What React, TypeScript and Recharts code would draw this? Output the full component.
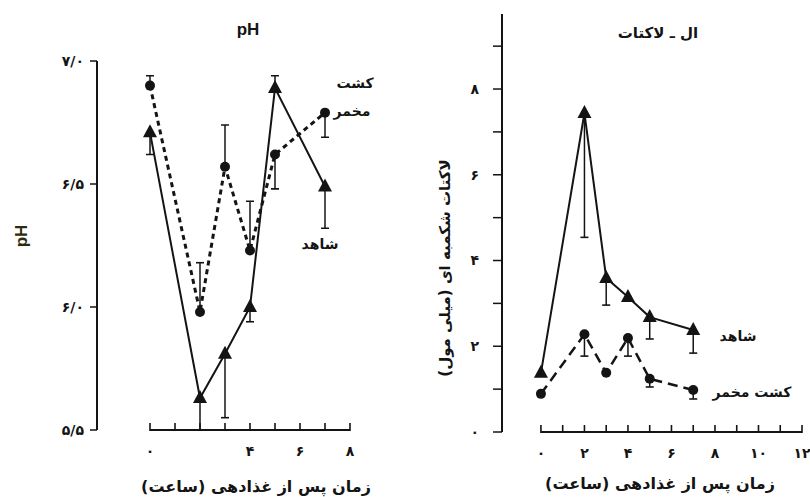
import React from 'react';
import { LineChart, Line, XAxis, YAxis } from 'recharts';

// sampling times (hours after feeding)
const hours = [0, 2, 3, 4, 5, 7];

// pH panel
const phControl = [6.71, 5.63, 5.81, 6.0, 6.89, 6.49];
const phControlErr = [[0.09, 0], [0.22, 0], [0.26, 0], [0.06, 0], [0, 0.05], [0.17, 0]]; // [down, up]
const phYeast = [6.9, 5.98, 6.57, 6.23, 6.62, 6.79];
const phYeastErr = [[0, 0.04], [0, 0.2], [0, 0.17], [0, 0.2], [0.14, 0], [0.1, 0]];

// L-lactate panel (mmol)
const lacControl = [1.38, 7.44, 3.59, 3.15, 2.68, 2.38];
const lacControlErr = [[0, 0], [2.9, 0], [0.63, 0], [0, 0], [0.51, 0], [0.54, 0]];
const lacYeast = [0.89, 2.28, 1.38, 2.19, 1.24, 0.98];
const lacYeastErr = [[0, 0], [0.51, 0], [0, 0], [0.42, 0], [0.19, 0], [0.21, 0]];

// ticks and their labels
const phTicks = [5.5, 6.0, 6.5, 7.0];
const phTickLabels = ['۵/۵', '۶/۰', '۶/۵', '۷/۰'];
const phHourTicks = [0, 1, 2, 3, 4, 5, 6, 7, 8];
const phHourLabels = ['۰', '', '', '', '۴', '', '۶', '', '۸'];
const lacTicks = [0, 1, 2, 3, 4, 5, 6, 7, 8, 9];
const lacTickLabels = ['۰', '', '۲', '', '۴', '', '۶', '', '۸', ''];
const lacHourTicks = [0, 1, 2, 3, 4, 5, 6, 7, 8, 9, 10, 11, 12];
const lacHourLabels = ['۰', '', '۲', '', '۴', '', '۶', '', '۸', '', '۱۰', '', '۱۲'];

const phRows = hours.map((h, i) => ({ hour: h, control: phControl[i], yeast: phYeast[i] }));
const lacRows = hours.map((h, i) => ({ hour: h, control: lacControl[i], yeast: lacYeast[i] }));

// one-sided error bars as two-point segments (value -> value -/+ error)
const errorSegments = (vals: number[], errs: number[][]) =>
  hours.flatMap((h, i) => {
    const out: { hour: number; v: number }[][] = [];
    const [lo, hi] = errs[i];
    if (lo > 0) out.push([{ hour: h, v: vals[i] }, { hour: h, v: vals[i] - lo }]);
    if (hi > 0) out.push([{ hour: h, v: vals[i] }, { hour: h, v: vals[i] + hi }]);
    return out;
  });

const phErrSegs = [...errorSegments(phYeast, phYeastErr), ...errorSegments(phControl, phControlErr)];
const lacErrSegs = [...errorSegments(lacYeast, lacYeastErr), ...errorSegments(lacControl, lacControlErr)];

// x axis baselines
const phBase = [{ hour: 0, v: 5.5 }, { hour: 8, v: 5.5 }];
const lacBase = [{ hour: 0, v: 0 }, { hour: 12, v: 0 }];

const INK = '#141414';
const FA = '"DejaVu Sans", sans-serif';

const tickStyle = { fill: INK, fontSize: 14, fontFamily: FA, fontWeight: 'bold' as const };

// x ticks point up into the plot, label sits below the axis
const makeUpTick = (ticks: number[], labels: string[]) => (props: any) => {
  const { x, y, payload, index } = props;
  const text = labels[ticks.indexOf(payload.value)] ?? '';
  const ax = Number(x);
  const ay = Number(y);
  return (
    <g key={`xt-${index}`}>
      <rect x={ax - 0.8} y={ay - 7} width={1.6} height={8} fill={INK} />
      <text x={ax} y={ay + 26} textAnchor="middle" {...tickStyle}>
        {text}
      </text>
    </g>
  );
};
const phHourTick = makeUpTick(phHourTicks, phHourLabels);
const lacHourTick = makeUpTick(lacHourTicks, lacHourLabels);

const TriangleDot = (props: any) => {
  const { cx, cy, index } = props;
  if (cx == null || cy == null) return <g key={`tri-${index}`} />;
  return <path key={`tri-${index}`} d={`M${cx},${cy - 8}L${cx + 7},${cy + 5}L${cx - 7},${cy + 5}Z`} fill={INK} />;
};

const CircleDot = (props: any) => {
  const { cx, cy, index } = props;
  if (cx == null || cy == null) return <g key={`cir-${index}`} />;
  return <circle key={`cir-${index}`} cx={cx} cy={cy} r={5} fill={INK} />;
};

// cap at the far end of an error segment
const CapDot = (props: any) => {
  const { cx, cy, index } = props;
  if (index !== 1 || cx == null || cy == null) return <g key={`cap-${index}`} />;
  return <line key={`cap-${index}`} x1={cx - 4} x2={cx + 4} y1={cy} y2={cy} stroke={INK} strokeWidth={1.6} />;
};

const label = (text: string, left: number, top: number, extra: React.CSSProperties = {}) => (
  <div
    dir="rtl"
    style={{
      position: 'absolute',
      left,
      top,
      transform: 'translate(-50%, -50%)',
      whiteSpace: 'nowrap',
      fontFamily: FA,
      fontWeight: 'bold',
      fontSize: 14,
      color: INK,
      ...extra,
    }}
  >
    {text}
  </div>
);

const App: React.FC = () => {
  return (
    <div style={{ position: 'absolute', left: 0, top: 0, width: 810, height: 497, background: '#fff' }}>
      {/* pH panel */}
      <div style={{ position: 'absolute', left: 0, top: 0 }}>
        <LineChart width={420} height={497} data={phRows} margin={{ top: 61, right: 70, bottom: 27, left: 37 }}>
          <XAxis
            type="number"
            dataKey="hour"
            domain={[-2.12, 8]}
            ticks={phHourTicks}
            interval={0}
            axisLine={false}
            tickLine={false}
            tickSize={0}
            tickMargin={0}
            height={40}
            tick={phHourTick}
          />
          <YAxis
            type="number"
            domain={[5.5, 7.0]}
            ticks={phTicks}
            interval={0}
            width={60}
            tickSize={7}
            tickMargin={6}
            axisLine={{ stroke: INK, strokeWidth: 2 }}
            tickLine={{ stroke: INK, strokeWidth: 1.5 }}
            tick={tickStyle}
            tickFormatter={(v) => phTickLabels[phTicks.indexOf(v)] ?? ''}
          />
          <YAxis yAxisId="err" type="number" domain={[5.5, 7.0]} allowDataOverflow hide />
          <Line data={phBase} dataKey="v" stroke={INK} strokeWidth={2} dot={false} activeDot={false} isAnimationActive={false} />
          {phErrSegs.map((seg, i) => (
            <Line
              key={`phe-${i}`}
              yAxisId="err"
              data={seg}
              dataKey="v"
              stroke={INK}
              strokeWidth={1.5}
              dot={CapDot}
              activeDot={false}
              isAnimationActive={false}
            />
          ))}
          <Line
            dataKey="yeast"
            stroke={INK}
            strokeWidth={3}
            strokeDasharray="5 4"
            dot={CircleDot}
            activeDot={false}
            isAnimationActive={false}
          />
          <Line
            dataKey="control"
            stroke={INK}
            strokeWidth={2}
            dot={TriangleDot}
            activeDot={false}
            isAnimationActive={false}
          />
        </LineChart>
      </div>

      {/* L-lactate panel */}
      <div style={{ position: 'absolute', left: 420, top: 0 }}>
        <LineChart width={390} height={497} data={lacRows} margin={{ top: 14, right: 8, bottom: 25, left: 22 }}>
          <XAxis
            type="number"
            dataKey="hour"
            domain={[-1.79, 12]}
            ticks={lacHourTicks}
            interval={0}
            axisLine={false}
            tickLine={false}
            tickSize={0}
            tickMargin={0}
            height={40}
            tick={lacHourTick}
          />
          <YAxis
            type="number"
            domain={[0, 9.75]}
            ticks={lacTicks}
            interval={0}
            width={60}
            tickSize={9}
            tickMargin={14}
            axisLine={{ stroke: INK, strokeWidth: 2 }}
            tickLine={{ stroke: INK, strokeWidth: 1.5 }}
            tick={tickStyle}
            tickFormatter={(v) => lacTickLabels[lacTicks.indexOf(v)] ?? ''}
          />
          <Line data={lacBase} dataKey="v" stroke={INK} strokeWidth={2} dot={false} activeDot={false} isAnimationActive={false} />
          {lacErrSegs.map((seg, i) => (
            <Line
              key={`lae-${i}`}
              data={seg}
              dataKey="v"
              stroke={INK}
              strokeWidth={1.5}
              dot={CapDot}
              activeDot={false}
              isAnimationActive={false}
            />
          ))}
          <Line
            dataKey="yeast"
            stroke={INK}
            strokeWidth={2.5}
            strokeDasharray="10 6"
            dot={CircleDot}
            activeDot={false}
            isAnimationActive={false}
          />
          <Line
            dataKey="control"
            stroke={INK}
            strokeWidth={2}
            dot={TriangleDot}
            activeDot={false}
            isAnimationActive={false}
          />
        </LineChart>
      </div>

      {/* titles and axis names */}
      {label('pH', 248, 30, { fontFamily: '"Liberation Sans", Arial, sans-serif', fontSize: 17, direction: 'ltr' })}
      {label('pH', 22, 236, { fontFamily: '"Liberation Sans", Arial, sans-serif', fontSize: 17, direction: 'ltr', color: '#2e2a0c', transform: 'translate(-50%, -50%) rotate(-90deg)' })}
      {label('زمان پس از غذادهی (ساعت)', 256, 486, { fontSize: 16 })}
      {label('ال ـ لاکتات', 658, 33, { fontSize: 15 })}
      {label('لاکتات شکمبه ای (میلی مول)', 445, 268, { fontSize: 15, transform: 'translate(-50%, -50%) rotate(-90deg)' })}
      {label('زمان پس از غذادهی (ساعت)', 660, 483, { fontSize: 16, letterSpacing: 1 })}

      {/* series names */}
      {label('کشت', 355, 83)}
      {label('مخمر', 352, 111)}
      {label('شاهد', 320, 244)}
      {label('شاهد', 738, 336)}
      {label('کشت مخمر', 752, 392)}
    </div>
  );
};

export default App;
